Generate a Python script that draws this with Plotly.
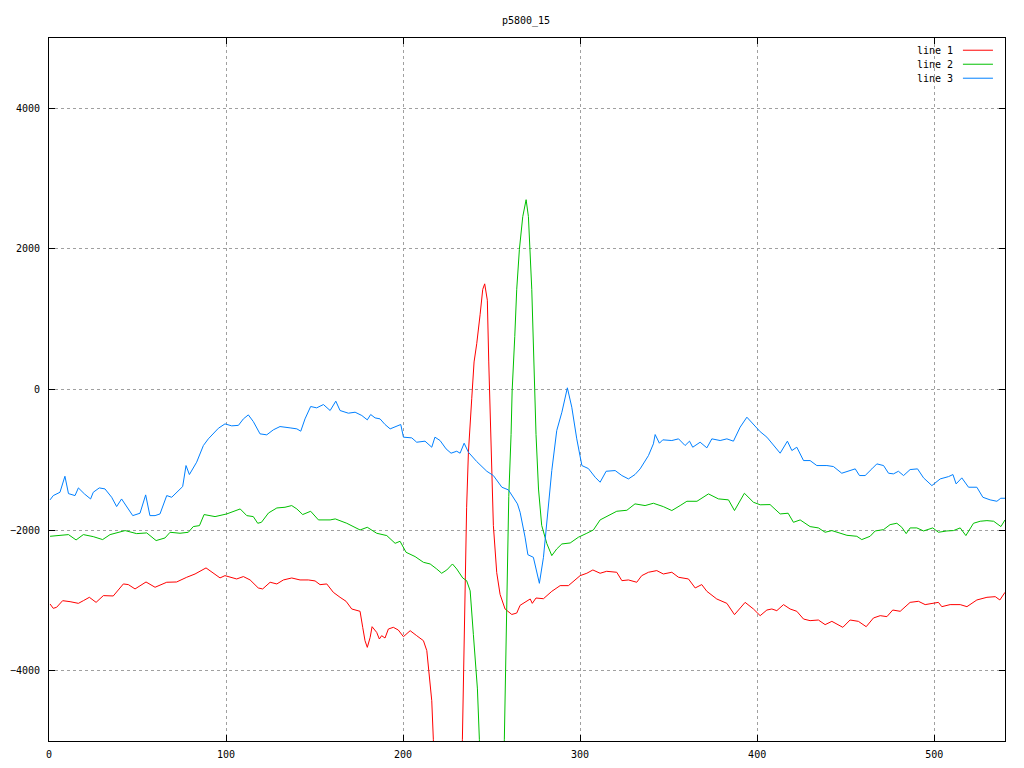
import plotly.graph_objects as go

# ---- data ----
series_names = ["line 1", "line 2", "line 3"]
series_colors = ["#ff0000", "#00c000", "#0080ff"]

x1 = [0.6, 2.4, 4.3, 7.7, 11.9, 16.6, 19.4, 22.8, 26.6, 30.7, 36.3, 42, 44.8, 48.6, 54.8, 59.9,
      66.5, 72.1, 77.8, 82.5, 88.7, 92.8, 96.6, 99.4, 103.2, 106, 109.8, 113.6, 118.2, 120.7,
      124.9, 128.7, 132.4, 137.1, 141.8, 146.5, 150.3, 153.1, 156.9, 160.6, 164.4, 167.8, 171,
      173.8, 175.7, 177.2, 178.5, 179.8, 181.4, 182.5, 185.1, 186.6, 187.9, 189.8, 191.7, 194.5,
      197.3, 200.2, 204, 207.7, 211.5, 213.4, 214.7, 216.2, 217.1, 218, 225, 233,
      233.5, 234.5, 235.2, 235.9, 236.9, 237.9, 238.8, 240.1, 241.6, 243.5, 245, 246.1, 247.6,
      248.4, 249.2, 250.1, 251, 252.9, 254.8, 257.6, 261.4, 264.2, 266.1, 271.8, 273, 275.1,
      279.3, 284, 288.7, 293.4, 297.2, 300, 303.8, 307.2, 311.3, 315, 320.7, 323.6, 327.3, 332,
      334.8, 338.6, 343.3, 347, 351.8, 355.6, 361.2, 365, 368.7, 371.6, 377.2, 382.9, 387.2,
      393.2, 397.9, 401.7, 405.5, 408.3, 411.1, 414.9, 418.6, 422.4, 426.2, 429.9, 434.6, 438.4,
      442.2, 448.4, 452.5, 457.2, 461.6, 465.7, 469.5, 473.3, 476.6, 480.8, 486.4, 491.1, 494.9,
      498.7, 502.4, 504.3, 509, 514.7, 518.5, 524.1, 529.8, 534.5, 537.1, 540]
y1 = [-3051, -3113, -3098, -3004, -3018, -3042, -3004, -2956, -3028, -2932, -2937, -2766, -2775,
      -2837, -2738, -2813, -2742, -2738, -2671, -2624, -2538, -2614, -2680, -2648, -2671, -2695,
      -2661, -2709, -2823, -2837, -2742, -2766, -2709, -2681, -2709, -2709, -2723, -2776, -2766,
      -2885, -2956, -3013, -3122, -3137, -3155, -3383, -3573, -3668, -3526, -3374, -3455, -3549,
      -3502, -3535, -3407, -3383, -3421, -3516, -3431, -3502, -3573, -3715, -4047, -4427, -4982,
      -5700, -8000, -5700,
      -4982, -3638, -2605, -1675, -899, -384, -125, 392, 651, 1063, 1425, 1503, 1270, 392, -384,
      -1159, -1933, -2605, -2915, -3122, -3200, -3180, -3070, -2980, -3042, -2966, -2976, -2871,
      -2790, -2790, -2709, -2648, -2614, -2567, -2614, -2586, -2600, -2719, -2709, -2742, -2648,
      -2600, -2576, -2624, -2600, -2671, -2695, -2823, -2775, -2871, -2980, -3042, -3203, -3028,
      -3122, -3217, -3137, -3122, -3146, -3060, -3122, -3155, -3265, -3288, -3279, -3345, -3298,
      -3383, -3279, -3298, -3374, -3250, -3217, -3231, -3137, -3155, -3028, -3013, -3060, -3042,
      -3028, -3089, -3060, -3060, -3089, -2994, -2956, -2947, -2994, -2885]

x2 = [0.6, 6.2, 11, 15.3, 19.4, 25, 30.3, 34.5, 43, 49.5, 55.2, 60.5, 65.5, 68.4, 74, 78.7, 81.5,
      85, 87.6, 93.8, 100.4, 108, 111.7, 115.4, 117.9, 120, 124, 128.7, 133.3, 137.1, 140, 143.3,
      147.8, 152.2, 158.8, 161.7, 168.2, 175.7, 179.8, 185.1, 190.8, 195.5, 198.3, 201.7, 206.8,
      211.5, 215.3, 219, 221.8, 224.7, 227.9, 230.3, 233.7, 235.9, 237.9, 239.7, 242, 243.1,
      244, 250, 256.5,
      257.2, 258.6, 259.7, 261, 261.6, 263.1, 264.2, 265.7, 267.6, 269.5, 270.8, 272.7, 274,
      275.1, 276.5, 278.3, 281.2, 284, 286.8, 289.7, 294.4, 299, 303.8, 307.5, 311.3, 316, 320.7,
      326.4, 331, 336.7, 341.4, 347, 351.8, 356.5, 360.3, 366, 372.5, 378.1, 383.8, 387.2, 392.8,
      397.9, 401.7, 407.3, 413, 417.5, 420.5, 424.3, 429.9, 434.6, 438.4, 442.2, 446.9, 450.7,
      456.3, 459.1, 463.8, 466.7, 471.4, 475.1, 478.9, 481.7, 484.2, 486.4, 490.2, 494, 499.2,
      502.4, 507.2, 510.9, 514.7, 517.9, 522.2, 526, 529.8, 533.6, 537.7, 540]
y2 = [-2088, -2078, -2064, -2140, -2064, -2093, -2135, -2064, -2007, -2050, -2040, -2149, -2112,
      -2031, -2045, -2031, -1950, -1936, -1779, -1808, -1770, -1699, -1794, -1808, -1903, -1889,
      -1756, -1685, -1675, -1651, -1699, -1779, -1732, -1855, -1855, -1841, -1903, -1998, -1960,
      -2045, -2078, -2188, -2159, -2316, -2377, -2458, -2482, -2553, -2614, -2567, -2482, -2553,
      -2681, -2719, -2864, -3483, -4259, -4982,
      -5700, -8000, -5700,
      -4982, -2864, -1520, -641, -21, 754, 1425, 1993, 2459, 2700, 2459, 1425, 134, -641, -1416,
      -1933, -2192, -2363, -2268, -2197, -2183, -2102, -2045, -1998, -1855, -1794, -1732, -1718,
      -1627, -1651, -1618, -1666, -1722, -1651, -1590, -1590, -1485, -1556, -1570, -1722, -1476,
      -1604, -1640, -1637, -1770, -1760, -1889, -1855, -1950, -1969, -2031, -2007, -2050, -2074,
      -2088, -2135, -2088, -2012, -1993, -1922, -1903, -1960, -2050, -1969, -1969, -2012, -1969,
      -2031, -2012, -2007, -1969, -2078, -1903, -1874, -1865, -1874, -1950, -1855]

x3 = [0.6, 2.4, 6.2, 9, 11, 14.7, 16.6, 20, 23.5, 25, 28.4, 31.6, 35.4, 38.2, 41, 43.9, 47.3,
      51.4, 54.6, 57, 59.9, 62.7, 66.5, 69.3, 72.1, 75.5, 77.4, 79.3, 83.4, 87.2, 90, 95.7, 99.4,
      103.2, 107, 109.8, 112.6, 115.4, 119.2, 123, 126.7, 130.5, 136.2, 140, 142.2, 144.6, 147.8,
      151.2, 155, 158.8, 162, 164.4, 169.1, 172.9, 176.7, 179.8, 181.7, 184.2, 187, 189.8, 192.7,
      196.4, 198.7, 200.2, 204.9, 207.7, 212.4, 216.2, 218, 220.9, 224.3, 227.1, 230.3, 232.2,
      234.5, 236.9, 241.6, 247.3, 251, 255.8, 259.5, 264.6, 266.1, 268.9, 270.5, 273.6, 277,
      279.3, 281.2, 284, 286.8, 289.7, 292.8, 295.3, 298.1, 301, 304.7, 308.5, 311.3, 314.7,
      319.8, 323.6, 327.3, 331, 333.9, 338.6, 341.4, 342.4, 344.8, 346.7, 351.8, 355.6, 359.3,
      361.8, 363.6, 367.8, 371.6, 374.4, 379.1, 382.9, 386.6, 390.4, 394.2, 397.9, 401.7, 405.5,
      409.2, 413, 417.1, 419.6, 422.4, 426.2, 429.9, 433.7, 439.4, 443.1, 447.8, 451.6, 455.4,
      457.8, 461, 464.8, 467.6, 471.4, 474.2, 477, 479.8, 482.7, 486.4, 490.6, 494, 498.7, 503.4,
      508.1, 510.6, 512.4, 515.6, 519.4, 524.1, 527.5, 531.6, 535.4, 537.6, 540]
y3 = [-1570, -1509, -1462, -1234, -1481, -1509, -1400, -1485, -1557, -1462, -1400, -1414, -1533,
      -1665, -1557, -1675, -1794, -1760, -1499, -1794, -1794, -1770, -1509, -1533, -1462, -1381,
      -1082, -1210, -1034, -797, -702, -551, -489, -517, -510, -418, -361, -456, -631, -645, -574,
      -527, -546, -560, -593, -418, -242, -261, -214, -299, -166, -299, -337, -323, -370, -432,
      -356, -404, -418, -498, -560, -527, -498, -678, -688, -750, -735, -821, -678, -726, -845,
      -906, -878, -906, -764, -892, -1025, -1163, -1224, -1390, -1428, -1627, -1746, -2100, -2350,
      -2387, -2757, -2387, -1865, -1153, -584, -323, 24, -252, -702, -1082, -1125, -1248, -1319,
      -1163, -1153, -1224, -1272, -1210, -1129, -940, -773, -641, -764, -716, -726, -702, -797,
      -735, -821, -750, -830, -702, -726, -702, -735, -536, -394, -489, -600, -678, -797, -906,
      -735, -868, -821, -1011, -1011, -1082, -1082, -1096, -1191, -1163, -1129, -1224, -1224,
      -1129, -1058, -1082, -1191, -1200, -1163, -1224, -1139, -1129, -1257, -1367, -1272, -1239,
      -1210, -1343, -1257, -1390, -1390, -1533, -1570, -1590, -1547, -1547]

x_ticks = [0, 100, 200, 300, 400, 500]
y_ticks = [-4000, -2000, 0, 2000, 4000]
title_text = "p5800_15"

FONT = "DejaVu Sans Mono"

fig = go.Figure()
for xs, ys, name, col in zip([x1, x2, x3], [y1, y2, y3], series_names, series_colors):
    fig.add_trace(go.Scatter(x=xs, y=ys, mode="lines", name=name,
                             line=dict(color=col, width=1), showlegend=False))

# gnuplot-style key: text then line sample, top right inside the plot
for i, (name, col) in enumerate(zip(series_names, series_colors)):
    yk = 0.9826 - i * 0.0199
    fig.add_annotation(x=0.9477, y=yk, xref="paper", yref="paper", text=name,
                       showarrow=False, xanchor="right", yanchor="middle",
                       font=dict(family=FONT, size=10, color="black"))
    fig.add_shape(type="line", xref="paper", yref="paper", x0=0.956, x1=0.9874,
                  y0=yk, y1=yk, line=dict(color=col, width=1))

axis_common = dict(showline=True, linecolor="black", linewidth=1, mirror="ticks",
                   ticks="inside", ticklen=6, tickcolor="black", showgrid=True,
                   gridcolor="#a0a0a0", griddash="dot", gridwidth=1, zeroline=False,
                   automargin=False,
                   tickfont=dict(family=FONT, size=10, color="black"))

# the page body has an 8px margin, so the figure is sized/offset to compensate
fig.update_layout(
    width=1008, height=752,
    paper_bgcolor="white", plot_bgcolor="white",
    margin=dict(l=41, r=11, t=30, b=19, autoexpand=False),
    title=dict(text=title_text, x=0.5139, xanchor="center", y=0.984, yanchor="middle",
               font=dict(family=FONT, size=10, color="black")),
    xaxis=dict(range=[0, 540], tickvals=x_ticks, ticklabelstandoff=4, **axis_common),
    yaxis=dict(range=[-5000, 5000], tickvals=y_ticks, ticklabelstandoff=6, **axis_common),
)

fig.write_html("out.html")
